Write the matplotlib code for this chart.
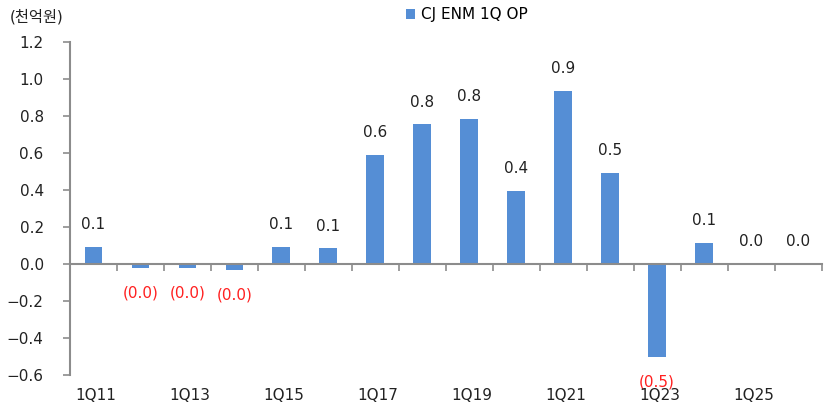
import matplotlib
matplotlib.use("Agg")
import matplotlib.pyplot as plt
import matplotlib.transforms as mtransforms

plt.rcParams['font.family'] = ['DejaVu Sans', 'Noto Sans CJK KR']

categories = ["1Q11", "1Q12", "1Q13", "1Q14", "1Q15", "1Q16", "1Q17", "1Q18",
              "1Q19", "1Q20", "1Q21", "1Q22", "1Q23", "1Q24", "1Q25", "1Q26"]
op_values = [0.095, -0.02, -0.02, -0.03, 0.095, 0.085, 0.59, 0.755,
             0.785, 0.395, 0.935, 0.495, -0.505, 0.115, 0.003, 0.002]
value_labels = ["0.1", "(0.0)", "(0.0)", "(0.0)", "0.1", "0.1", "0.6", "0.8",
                "0.8", "0.4", "0.9", "0.5", "(0.5)", "0.1", "0.0", "0.0"]
yticks = [-0.6, -0.4, -0.2, 0.0, 0.2, 0.4, 0.6, 0.8, 1.0, 1.2]

bar_color = "#558ED5"
axis_color = "#8c8c8c"
fs = 11

fig = plt.figure(figsize=(8.24, 4.09), dpi=100)
ax = fig.add_axes([0.085, 0.083, 0.912, 0.814])

x = list(range(len(categories)))
ax.bar(x, op_values, width=0.38, color=bar_color, label="CJ ENM 1Q OP", zorder=2)

ax.set_xlim(-0.5, len(categories) - 0.5)
ax.set_ylim(-0.6, 1.2)

# value labels (offsets in pixels, dpi 100)
for xi, v, lab in zip(x, op_values, value_labels):
    if v < 0:
        ax.annotate(lab, (xi, v), xytext=(0, -18), textcoords="offset points",
                    ha="center", va="center", fontsize=fs, color="#ff2020")
    else:
        ax.annotate(lab, (xi, v), xytext=(0, 16), textcoords="offset points",
                    ha="center", va="center", fontsize=fs, color="#222222")

# axes styling
for s in ["top", "right"]:
    ax.spines[s].set_visible(False)
ax.spines["bottom"].set_position(("data", 0))
ax.spines["bottom"].set_color(axis_color)
ax.spines["left"].set_color(axis_color)
ax.spines["bottom"].set_linewidth(1.5)
ax.spines["left"].set_linewidth(1.5)

ax.set_yticks(yticks)
ax.set_yticklabels([f"{t:.1f}".replace("-", "\u2212") for t in yticks], fontsize=fs, color="#222222")
ax.tick_params(axis="y", length=5, width=1.2, color=axis_color, pad=14)

ax.set_xticks([i + 0.5 for i in x])
ax.set_xticklabels([])
ax.tick_params(axis="x", length=5, width=1.2, color=axis_color, direction="out")

trans = mtransforms.blended_transform_factory(ax.transData, fig.transFigure)
for i in range(0, len(categories), 2):
    ax.text(i + 0.05, 1 - 396 / 409, categories[i], transform=trans, ha="center", va="center",
            fontsize=fs, color="#222222")

fig.text(10 / 824, 1 - 17 / 409, "(천억원)", ha="left", va="center", fontsize=fs, color="#222222")
ax.legend(loc="center", bbox_to_anchor=(467 / 824, 1 - 15 / 409), bbox_transform=fig.transFigure,
          frameon=False, fontsize=fs, handlelength=0.6, handleheight=0.6, handletextpad=0.4)

fig.savefig("out.png", dpi=100)
